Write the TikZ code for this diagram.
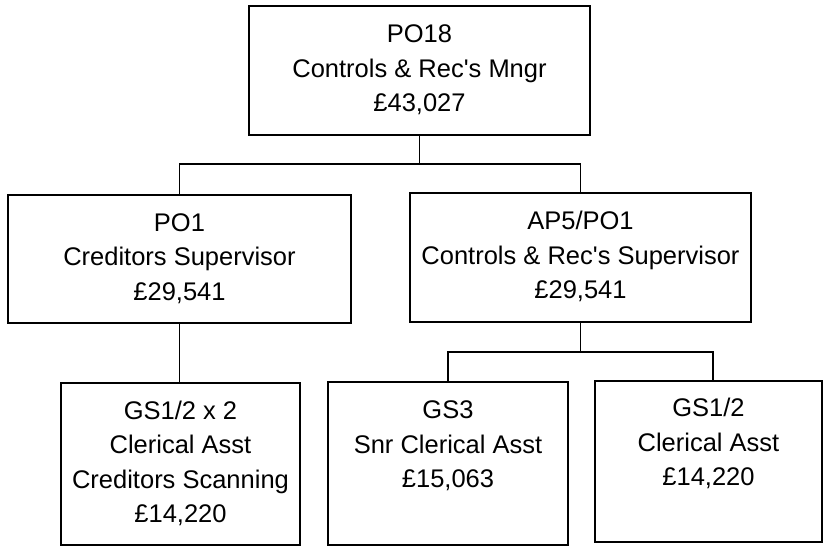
\documentclass[tikz,border=0pt]{standalone}
\usepackage{fontspec}
\setmainfont{Liberation Sans}
\begin{document}
\begin{tikzpicture}[x=1pt,y=-1pt,
  post/.style={draw=black, line width=1.5pt, align=center, inner sep=0pt,
    font=\fontsize{25.5}{34.5}\selectfont},
  link/.style={draw=black, line width=1.6pt}]
\useasboundingbox (0,0) rectangle (823,547);
\node[post, minimum width=341pt, minimum height=129pt] (top) at (419.5,70.5)
  {\strut PO18\\Controls \& Rec\textquotesingle s Mngr\\£43,027\strut};
\node[post, minimum width=343pt, minimum height=128pt] (midL) at (179.5,259)
  {\strut PO1\\Creditors Supervisor\\£29,541\strut};
\node[post, minimum width=341pt, minimum height=129pt] (midR) at (580.5,257.5)
  {\strut AP5/PO1\\Controls \& Rec\textquotesingle s Supervisor\\£29,541\strut};
\node[post, minimum width=239pt, minimum height=162pt] (botL) at (180.5,464)
  {\strut GS1/2 x 2\\Clerical Asst\\Creditors Scanning\\£14,220\strut};
\node[post, minimum width=240pt, minimum height=163pt] (botM) at (448,463.5)
  {\strut GS3\\Snr Clerical Asst\\£15,063\\\strut};
\node[post, minimum width=227pt, minimum height=161pt] (botR) at (708.5,461.5)
  {\strut GS1/2\\Clerical Asst\\£14,220\\\strut};
\coordinate (j1) at (419.5,164);
\coordinate (j2) at (580.5,352);
\draw[link] (top.south) -- (j1);
\draw[link] (midL.north) |- (j1) -| (midR.north);
\draw[link] (midL.south) -- (midL.south |- botL.north);
\draw[link] (midR.south) -- (j2);
\draw[link] (botM.north) |- (j2) -| ([xshift=4.5pt]botR.north);
\end{tikzpicture}
\end{document}
